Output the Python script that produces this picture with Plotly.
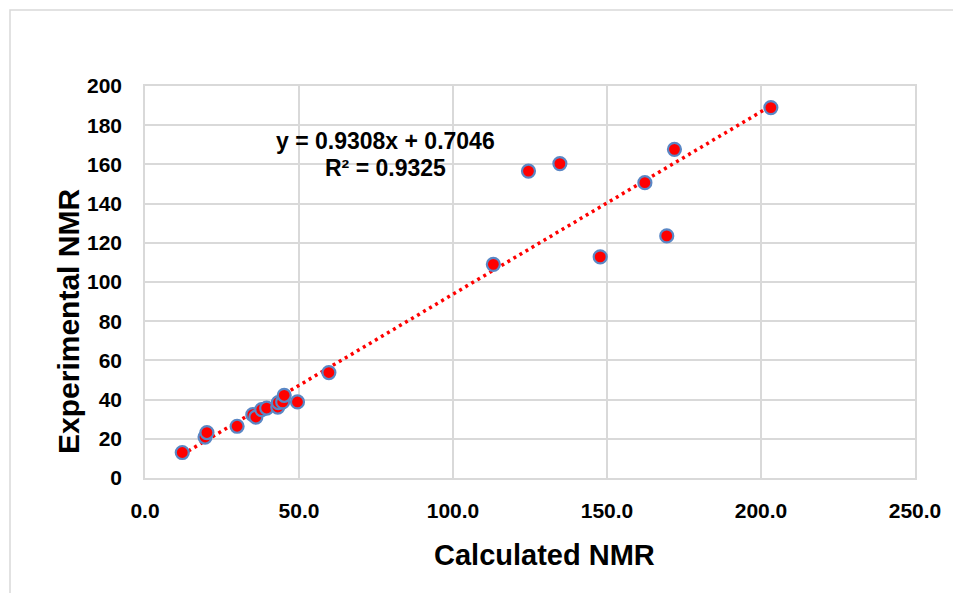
import plotly.graph_objects as go

# Data
calc_nmr = [12.1, 19.5, 20.1, 29.9, 35.0, 36.0, 37.9, 39.5, 43.1, 43.3, 44.7, 45.2, 49.5, 59.7,
            113.1, 124.5, 134.7, 147.8, 162.3, 169.4, 171.9, 203.2]
exp_nmr = [13.0, 20.9, 23.2, 26.4, 32.3, 31.1, 34.9, 35.7, 36.2, 38.5, 38.8, 42.2, 38.8, 53.8,
           109.0, 156.6, 160.4, 112.8, 150.7, 123.5, 167.7, 189.0]

slope = 0.9308
intercept = 0.7046
r2 = 0.9325

x_ticks = [0, 50, 100, 150, 200, 250]
x_tick_text = ["0.0", "50.0", "100.0", "150.0", "200.0", "250.0"]
y_ticks = [0, 20, 40, 60, 80, 100, 120, 140, 160, 180, 200]

# page body has an 8px margin; work in window pixels and shift
OFF = 8
W, H = 961 - OFF, 593 - OFF
L, R, T, B = 145 - OFF, 915 - OFF, 86 - OFF, 478 - OFF

FONT = "Liberation Sans, Arial, sans-serif"
GRID = "#D9D9D9"

x_fit = [min(calc_nmr), max(calc_nmr)]
y_fit = [slope * v + intercept for v in x_fit]

fig = go.Figure()
fig.add_trace(go.Scatter(
    x=x_fit, y=y_fit, mode="lines",
    line=dict(color="#FF0000", width=3.5, dash="3px,4px"),
    hoverinfo="skip", showlegend=False,
))
fig.add_trace(go.Scatter(
    x=calc_nmr, y=exp_nmr, mode="markers",
    marker=dict(color="#FF0000", size=13, line=dict(color="#5A87C5", width=2.2)),
    showlegend=False,
))

def px_x(p):
    return (p - OFF - L) / (R - L)

def px_y(p):
    return (B - (p - OFF)) / (B - T)

fig.update_layout(
    width=W, height=H,
    margin=dict(l=L, r=W - R, t=T, b=H - B, pad=0),
    paper_bgcolor="white", plot_bgcolor="white",
    font=dict(family=FONT, size=18, color="#000000"),
    xaxis=dict(
        range=[0, 250], tickvals=x_ticks, ticktext=x_tick_text,
        showgrid=True, gridcolor=GRID, gridwidth=1.5,
        showline=True, linecolor=GRID, linewidth=1.5, mirror=True,
        zeroline=False, ticks="", ticklabelstandoff=13,
        tickfont=dict(family=FONT, size=21, color="#000000", weight="bold"),
    ),
    yaxis=dict(
        range=[0, 200], tickvals=y_ticks,
        showgrid=True, gridcolor=GRID, gridwidth=1.5,
        showline=True, linecolor=GRID, linewidth=1.5, mirror=True,
        zeroline=False, ticks="", ticklabelstandoff=17,
        tickfont=dict(family=FONT, size=21, color="#000000", weight="bold"),
    ),
    shapes=[dict(
        type="rect", xref="paper", yref="paper",
        x0=px_x(10), x1=px_x(985), y0=px_y(620), y1=px_y(10),
        line=dict(color=GRID, width=1.5), fillcolor="rgba(0,0,0,0)", layer="below",
    )],
    annotations=[
        dict(text="<b>y = %.4fx + %.4f</b>" % (slope, intercept), xref="paper", yref="paper",
             x=px_x(385), y=px_y(141), showarrow=False, xanchor="center", yanchor="middle",
             font=dict(family=FONT, size=23, color="#000000")),
        dict(text="<b>R² = %.4f</b>" % r2, xref="paper", yref="paper",
             x=px_x(385), y=px_y(168), showarrow=False, xanchor="center", yanchor="middle",
             font=dict(family=FONT, size=23, color="#000000")),
        dict(text="<b>Calculated NMR</b>", xref="paper", yref="paper",
             x=px_x(544), y=px_y(555), showarrow=False, xanchor="center", yanchor="middle",
             font=dict(family=FONT, size=29, color="#000000")),
        dict(text="<b>Experimental NMR</b>", xref="paper", yref="paper",
             x=px_x(68), y=px_y(322), showarrow=False, xanchor="center", yanchor="middle",
             textangle=-90, font=dict(family=FONT, size=30, color="#000000")),
    ],
)

fig.write_html("out.html")
